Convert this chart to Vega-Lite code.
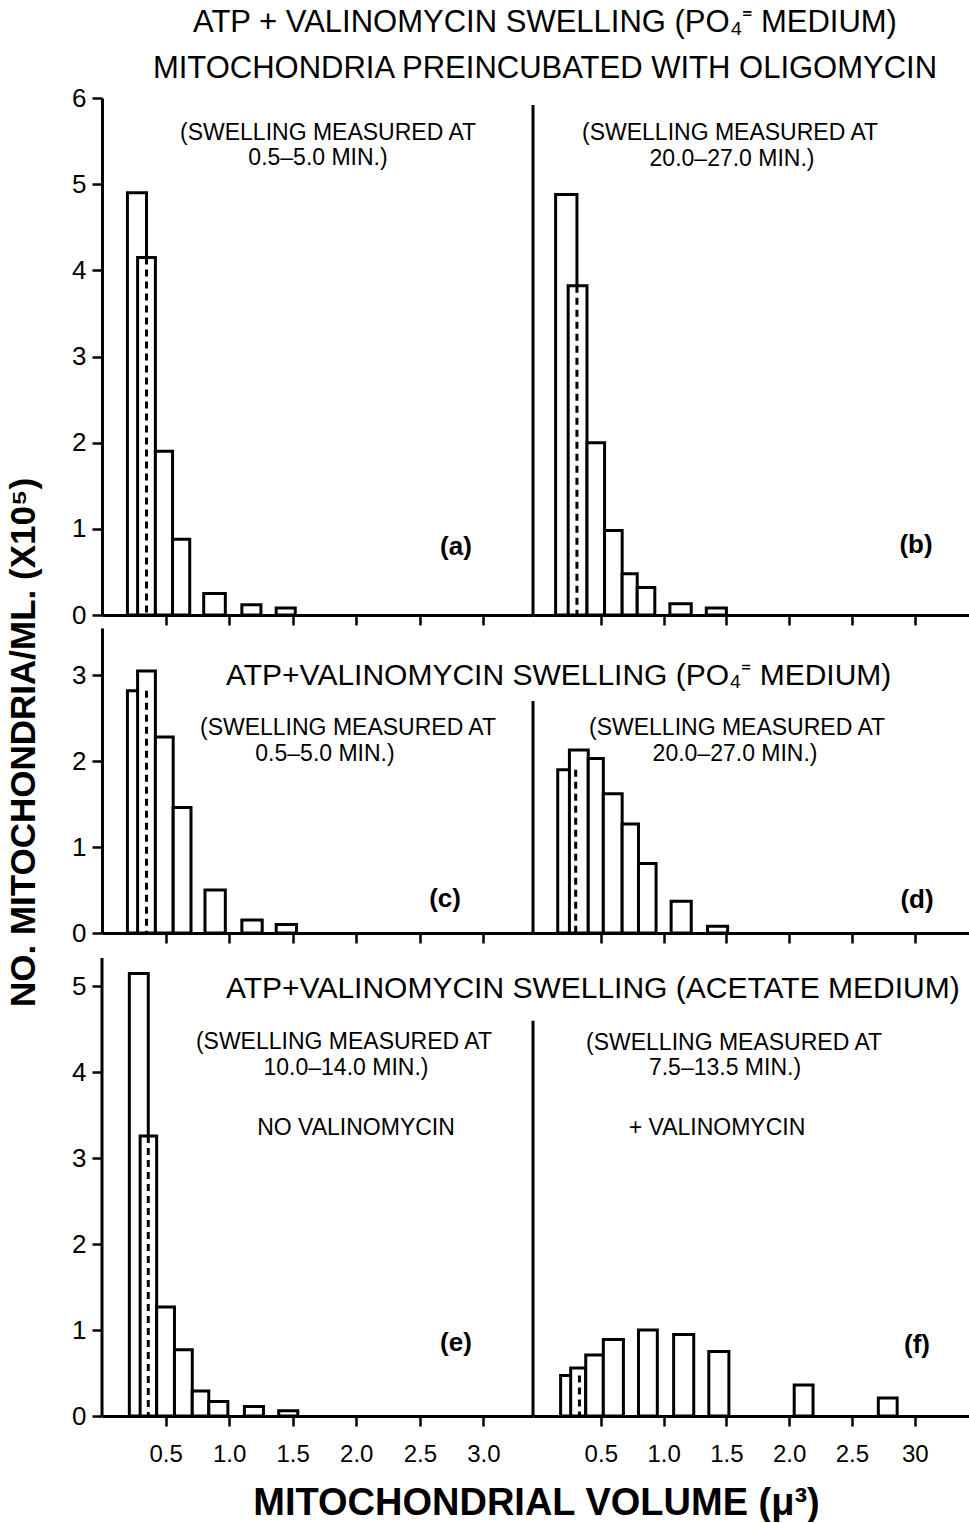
{
  "$schema": "https://vega.github.io/schema/vega-lite/v6.json",
  "padding": {"left": 5, "top": 7, "right": 0, "bottom": 0},
  "title": {
    "text": ["ATP + VALINOMYCIN SWELLING (PO₄⁼ MEDIUM)", "MITOCHONDRIA PREINCUBATED WITH OLIGOMYCIN"],
    "fontSize": 31, "fontWeight": "normal", "lineHeight": 46, "anchor": "middle", "frame": "bounds", "dx": 57, "offset": 0, "color": "black", "font": "Liberation Sans"
  },
  "columns": 2,
  "bounds": "flush",
  "align": "each",
  "spacing": {"row": 13, "column": 0},
  "datasets": {
    "bars": [
      {"panel": "a", "lo": 0.20, "hi": 0.35, "count": 4.90},
      {"panel": "a", "lo": 0.28, "hi": 0.42, "count": 4.15},
      {"panel": "a", "lo": 0.42, "hi": 0.555, "count": 1.90},
      {"panel": "a", "lo": 0.555, "hi": 0.69, "count": 0.88},
      {"panel": "a", "lo": 0.80, "hi": 0.97, "count": 0.25},
      {"panel": "a", "lo": 1.10, "hi": 1.25, "count": 0.12},
      {"panel": "a", "lo": 1.37, "hi": 1.52, "count": 0.08},
      {"panel": "b", "lo": 0.14, "hi": 0.31, "count": 4.88},
      {"panel": "b", "lo": 0.24, "hi": 0.39, "count": 3.82},
      {"panel": "b", "lo": 0.39, "hi": 0.53, "count": 2.00},
      {"panel": "b", "lo": 0.53, "hi": 0.67, "count": 0.98},
      {"panel": "b", "lo": 0.67, "hi": 0.79, "count": 0.48},
      {"panel": "b", "lo": 0.79, "hi": 0.93, "count": 0.32},
      {"panel": "b", "lo": 1.05, "hi": 1.22, "count": 0.13},
      {"panel": "b", "lo": 1.34, "hi": 1.50, "count": 0.08},
      {"panel": "c", "lo": 0.20, "hi": 0.35, "count": 2.82},
      {"panel": "c", "lo": 0.28, "hi": 0.42, "count": 3.05},
      {"panel": "c", "lo": 0.42, "hi": 0.56, "count": 2.28},
      {"panel": "c", "lo": 0.56, "hi": 0.70, "count": 1.46},
      {"panel": "c", "lo": 0.81, "hi": 0.97, "count": 0.50},
      {"panel": "c", "lo": 1.10, "hi": 1.26, "count": 0.15},
      {"panel": "c", "lo": 1.37, "hi": 1.53, "count": 0.10},
      {"panel": "d", "lo": 0.157, "hi": 0.30, "count": 1.90},
      {"panel": "d", "lo": 0.25, "hi": 0.40, "count": 2.13},
      {"panel": "d", "lo": 0.40, "hi": 0.52, "count": 2.03},
      {"panel": "d", "lo": 0.52, "hi": 0.67, "count": 1.62},
      {"panel": "d", "lo": 0.67, "hi": 0.80, "count": 1.27},
      {"panel": "d", "lo": 0.80, "hi": 0.94, "count": 0.81},
      {"panel": "d", "lo": 1.06, "hi": 1.22, "count": 0.37},
      {"panel": "d", "lo": 1.35, "hi": 1.51, "count": 0.08},
      {"panel": "e", "lo": 0.215, "hi": 0.364, "count": 5.15},
      {"panel": "e", "lo": 0.30, "hi": 0.43, "count": 3.26},
      {"panel": "e", "lo": 0.43, "hi": 0.57, "count": 1.27},
      {"panel": "e", "lo": 0.57, "hi": 0.71, "count": 0.77},
      {"panel": "e", "lo": 0.71, "hi": 0.84, "count": 0.29},
      {"panel": "e", "lo": 0.84, "hi": 0.99, "count": 0.17},
      {"panel": "e", "lo": 1.12, "hi": 1.27, "count": 0.11},
      {"panel": "e", "lo": 1.39, "hi": 1.54, "count": 0.06},
      {"panel": "f", "lo": 0.18, "hi": 0.33, "count": 0.47},
      {"panel": "f", "lo": 0.26, "hi": 0.38, "count": 0.56},
      {"panel": "f", "lo": 0.38, "hi": 0.52, "count": 0.71},
      {"panel": "f", "lo": 0.52, "hi": 0.68, "count": 0.89},
      {"panel": "f", "lo": 0.80, "hi": 0.95, "count": 1.00},
      {"panel": "f", "lo": 1.08, "hi": 1.24, "count": 0.95},
      {"panel": "f", "lo": 1.36, "hi": 1.52, "count": 0.75},
      {"panel": "f", "lo": 2.04, "hi": 2.19, "count": 0.36},
      {"panel": "f", "lo": 2.71, "hi": 2.86, "count": 0.21}
    ],
    "hidden": [
      {"panel": "a", "edge": 0.35, "top": 4.15},
      {"panel": "b", "edge": 0.31, "top": 3.82},
      {"panel": "c", "edge": 0.35, "top": 2.82},
      {"panel": "d", "edge": 0.30, "top": 1.90},
      {"panel": "e", "edge": 0.364, "top": 3.26},
      {"panel": "f", "edge": 0.33, "top": 0.47}
    ]
  },
  "concat": [
    {
      "width": 431, "height": 517,
      "layer": [
        {
          "data": {"name": "bars"},
          "transform": [{"filter": "datum.panel === 'a'"}],
          "mark": {"type": "rect", "fill": "white", "stroke": "black", "strokeWidth": 3},
          "encoding": {
            "x": {"field": "lo", "type": "quantitative", "scale": {"domain": [0, 3.39], "nice": false, "zero": false}, "axis": {"values": [0.5, 1, 1.5, 2, 2.5, 3], "labels": false, "title": null}},
            "x2": {"field": "hi"},
            "y": {"field": "count", "type": "quantitative", "scale": {"domain": [0, 6], "nice": false}, "axis": {"values": [0, 1, 2, 3, 4, 5, 6], "format": "d", "title": null}},
            "y2": {"datum": 0}
          }
        },
        {
          "data": {"name": "hidden"},
          "transform": [{"filter": "datum.panel === 'a'"}],
          "mark": {"type": "rule", "strokeDash": [7, 5], "strokeWidth": 3, "color": "black"},
          "encoding": {"x": {"field": "edge", "type": "quantitative"}, "y": {"field": "top", "type": "quantitative"}, "y2": {"datum": 0}}
        },
        {"data": {"values": [{}]}, "mark": {"type": "text", "align": "center", "baseline": "alphabetic", "fontSize": 23}, "encoding": {"x": {"datum": 1.778}, "y": {"datum": 5.512}, "text": {"value": "(SWELLING MEASURED AT"}}},
        {"data": {"values": [{}]}, "mark": {"type": "text", "align": "center", "baseline": "alphabetic", "fontSize": 23}, "encoding": {"x": {"datum": 1.699}, "y": {"datum": 5.222}, "text": {"value": "0.5–5.0 MIN.)"}}},
        {"data": {"values": [{}]}, "mark": {"type": "text", "align": "center", "baseline": "alphabetic", "fontSize": 26, "fontWeight": "bold"}, "encoding": {"x": {"datum": 2.784}, "y": {"datum": 0.70}, "text": {"value": "(a)"}}}
      ]
    },
    {
      "width": 437, "height": 517,
      "layer": [
        {
          "data": {"name": "bars"},
          "transform": [{"filter": "datum.panel === 'b'"}],
          "mark": {"type": "rect", "fill": "white", "stroke": "black", "strokeWidth": 3},
          "encoding": {
            "x": {"field": "lo", "type": "quantitative", "scale": {"domain": [-0.04, 3.44], "nice": false, "zero": false}, "axis": {"values": [0.5, 1, 1.5, 2, 2.5, 3], "labels": false, "title": null}},
            "x2": {"field": "hi"},
            "y": {"field": "count", "type": "quantitative", "scale": {"domain": [0, 6], "nice": false}, "axis": null},
            "y2": {"datum": 0}
          }
        },
        {
          "data": {"name": "hidden"},
          "transform": [{"filter": "datum.panel === 'b'"}],
          "mark": {"type": "rule", "strokeDash": [7, 5], "strokeWidth": 3, "color": "black"},
          "encoding": {"x": {"field": "edge", "type": "quantitative"}, "y": {"field": "top", "type": "quantitative"}, "y2": {"datum": 0}}
        },
        {"data": {"values": [{}]}, "mark": {"type": "rule", "strokeWidth": 3, "color": "black"}, "encoding": {"x": {"datum": -0.04}, "y": {"datum": 0}, "y2": {"datum": 5.92}}},
        {"data": {"values": [{}]}, "mark": {"type": "text", "align": "center", "baseline": "alphabetic", "fontSize": 23}, "encoding": {"x": {"datum": 1.529}, "y": {"datum": 5.512}, "text": {"value": "(SWELLING MEASURED AT"}}},
        {"data": {"values": [{}]}, "mark": {"type": "text", "align": "center", "baseline": "alphabetic", "fontSize": 23}, "encoding": {"x": {"datum": 1.545}, "y": {"datum": 5.21}, "text": {"value": "20.0–27.0 MIN.)"}}},
        {"data": {"values": [{}]}, "mark": {"type": "text", "align": "center", "baseline": "alphabetic", "fontSize": 26, "fontWeight": "bold"}, "encoding": {"x": {"datum": 3.01}, "y": {"datum": 0.72}, "text": {"value": "(b)"}}}
      ]
    },
    {
      "width": 431, "height": 305,
      "layer": [
        {
          "data": {"name": "bars"},
          "transform": [{"filter": "datum.panel === 'c'"}],
          "mark": {"type": "rect", "fill": "white", "stroke": "black", "strokeWidth": 3},
          "encoding": {
            "x": {"field": "lo", "type": "quantitative", "scale": {"domain": [0, 3.39], "nice": false, "zero": false}, "axis": {"values": [0.5, 1, 1.5, 2, 2.5, 3], "labels": false, "title": null}},
            "x2": {"field": "hi"},
            "y": {"field": "count", "type": "quantitative", "scale": {"domain": [0, 3.55], "nice": false}, "axis": {"values": [0, 1, 2, 3], "format": "d", "title": "NO. MITOCHONDRIA/ML. (X10⁵)", "titleX": -79, "titleY": 114, "titleAlign": "center", "titleBaseline": "middle", "titleAngle": 270, "titleFontSize": 35, "titleFontWeight": "bold"}},
            "y2": {"datum": 0}
          }
        },
        {
          "data": {"name": "hidden"},
          "transform": [{"filter": "datum.panel === 'c'"}],
          "mark": {"type": "rule", "strokeDash": [7, 5], "strokeWidth": 3, "color": "black"},
          "encoding": {"x": {"field": "edge", "type": "quantitative"}, "y": {"field": "top", "type": "quantitative"}, "y2": {"datum": 0}}
        },
        {"data": {"values": [{}]}, "mark": {"type": "text", "align": "left", "baseline": "alphabetic", "fontSize": 30}, "encoding": {"x": {"datum": 0.975}, "y": {"datum": 2.887}, "text": {"value": "ATP+VALINOMYCIN SWELLING (PO₄⁼ MEDIUM)"}}},
        {"data": {"values": [{}]}, "mark": {"type": "text", "align": "center", "baseline": "alphabetic", "fontSize": 23}, "encoding": {"x": {"datum": 1.935}, "y": {"datum": 2.305}, "text": {"value": "(SWELLING MEASURED AT"}}},
        {"data": {"values": [{}]}, "mark": {"type": "text", "align": "center", "baseline": "alphabetic", "fontSize": 23}, "encoding": {"x": {"datum": 1.754}, "y": {"datum": 2.002}, "text": {"value": "0.5–5.0 MIN.)"}}},
        {"data": {"values": [{}]}, "mark": {"type": "text", "align": "center", "baseline": "alphabetic", "fontSize": 26, "fontWeight": "bold"}, "encoding": {"x": {"datum": 2.698}, "y": {"datum": 0.30}, "text": {"value": "(c)"}}}
      ]
    },
    {
      "width": 437, "height": 305,
      "layer": [
        {
          "data": {"name": "bars"},
          "transform": [{"filter": "datum.panel === 'd'"}],
          "mark": {"type": "rect", "fill": "white", "stroke": "black", "strokeWidth": 3},
          "encoding": {
            "x": {"field": "lo", "type": "quantitative", "scale": {"domain": [-0.04, 3.44], "nice": false, "zero": false}, "axis": {"values": [0.5, 1, 1.5, 2, 2.5, 3], "labels": false, "title": null}},
            "x2": {"field": "hi"},
            "y": {"field": "count", "type": "quantitative", "scale": {"domain": [0, 3.55], "nice": false}, "axis": null},
            "y2": {"datum": 0}
          }
        },
        {
          "data": {"name": "hidden"},
          "transform": [{"filter": "datum.panel === 'd'"}],
          "mark": {"type": "rule", "strokeDash": [7, 5], "strokeWidth": 3, "color": "black"},
          "encoding": {"x": {"field": "edge", "type": "quantitative"}, "y": {"field": "top", "type": "quantitative"}, "y2": {"datum": 0}}
        },
        {"data": {"values": [{}]}, "mark": {"type": "rule", "strokeWidth": 3, "color": "black"}, "encoding": {"x": {"datum": -0.04}, "y": {"datum": 0}, "y2": {"datum": 2.70}}},
        {"data": {"values": [{}]}, "mark": {"type": "text", "align": "center", "baseline": "alphabetic", "fontSize": 23}, "encoding": {"x": {"datum": 1.585}, "y": {"datum": 2.305}, "text": {"value": "(SWELLING MEASURED AT"}}},
        {"data": {"values": [{}]}, "mark": {"type": "text", "align": "center", "baseline": "alphabetic", "fontSize": 23}, "encoding": {"x": {"datum": 1.569}, "y": {"datum": 2.002}, "text": {"value": "20.0–27.0 MIN.)"}}},
        {"data": {"values": [{}]}, "mark": {"type": "text", "align": "center", "baseline": "alphabetic", "fontSize": 26, "fontWeight": "bold"}, "encoding": {"x": {"datum": 3.018}, "y": {"datum": 0.29}, "text": {"value": "(d)"}}}
      ]
    },
    {
      "width": 431, "height": 470,
      "layer": [
        {
          "data": {"name": "bars"},
          "transform": [{"filter": "datum.panel === 'e'"}],
          "mark": {"type": "rect", "fill": "white", "stroke": "black", "strokeWidth": 3},
          "encoding": {
            "x": {"field": "lo", "type": "quantitative", "scale": {"domain": [0, 3.39], "nice": false, "zero": false}, "axis": {"values": [0.5, 1, 1.5, 2, 2.5, 3], "format": ".1f", "labelFontSize": 24, "labelPadding": 16, "title": "MITOCHONDRIAL VOLUME (μ³)", "titleX": 434, "titleY": 87, "titleAlign": "center", "titleBaseline": "middle", "titleFontSize": 38, "titleFontWeight": "bold"}},
            "x2": {"field": "hi"},
            "y": {"field": "count", "type": "quantitative", "scale": {"domain": [0, 5.471], "nice": false}, "axis": {"values": [0, 1, 2, 3, 4, 5], "format": "d", "domain": false, "title": null}},
            "y2": {"datum": 0}
          }
        },
        {
          "data": {"name": "hidden"},
          "transform": [{"filter": "datum.panel === 'e'"}],
          "mark": {"type": "rule", "strokeDash": [7, 5], "strokeWidth": 3, "color": "black"},
          "encoding": {"x": {"field": "edge", "type": "quantitative"}, "y": {"field": "top", "type": "quantitative"}, "y2": {"datum": 0}}
        },
        {"data": {"values": [{}]}, "mark": {"type": "rule", "strokeWidth": 3, "color": "black"}, "encoding": {"x": {"datum": 0}, "y": {"datum": 0}, "y2": {"datum": 5.33}}},
        {"data": {"values": [{}]}, "mark": {"type": "text", "align": "left", "baseline": "alphabetic", "fontSize": 30}, "encoding": {"x": {"datum": 0.975}, "y": {"datum": 4.866}, "text": {"value": "ATP+VALINOMYCIN SWELLING (ACETATE MEDIUM)"}}},
        {"data": {"values": [{}]}, "mark": {"type": "text", "align": "center", "baseline": "alphabetic", "fontSize": 23}, "encoding": {"x": {"datum": 1.903}, "y": {"datum": 4.272}, "text": {"value": "(SWELLING MEASURED AT"}}},
        {"data": {"values": [{}]}, "mark": {"type": "text", "align": "center", "baseline": "alphabetic", "fontSize": 23}, "encoding": {"x": {"datum": 1.919}, "y": {"datum": 3.97}, "text": {"value": "10.0–14.0 MIN.)"}}},
        {"data": {"values": [{}]}, "mark": {"type": "text", "align": "center", "baseline": "alphabetic", "fontSize": 23}, "encoding": {"x": {"datum": 1.998}, "y": {"datum": 3.271}, "text": {"value": "NO VALINOMYCIN"}}},
        {"data": {"values": [{}]}, "mark": {"type": "text", "align": "center", "baseline": "alphabetic", "fontSize": 26, "fontWeight": "bold"}, "encoding": {"x": {"datum": 2.784}, "y": {"datum": 0.757}, "text": {"value": "(e)"}}}
      ]
    },
    {
      "width": 437, "height": 470,
      "layer": [
        {
          "data": {"name": "bars"},
          "transform": [{"filter": "datum.panel === 'f'"}],
          "mark": {"type": "rect", "fill": "white", "stroke": "black", "strokeWidth": 3},
          "encoding": {
            "x": {"field": "lo", "type": "quantitative", "scale": {"domain": [-0.04, 3.44], "nice": false, "zero": false}, "axis": {"values": [0.5, 1, 1.5, 2, 2.5, 3], "labelExpr": "datum.value === 3 ? '30' : format(datum.value, '.1f')", "labelFontSize": 24, "labelPadding": 16, "title": null}},
            "x2": {"field": "hi"},
            "y": {"field": "count", "type": "quantitative", "scale": {"domain": [0, 5.471], "nice": false}, "axis": null},
            "y2": {"datum": 0}
          }
        },
        {
          "data": {"name": "hidden"},
          "transform": [{"filter": "datum.panel === 'f'"}],
          "mark": {"type": "rule", "strokeDash": [7, 5], "strokeWidth": 3, "color": "black"},
          "encoding": {"x": {"field": "edge", "type": "quantitative"}, "y": {"field": "top", "type": "quantitative"}, "y2": {"datum": 0}}
        },
        {"data": {"values": [{}]}, "mark": {"type": "rule", "strokeWidth": 3, "color": "black"}, "encoding": {"x": {"datum": -0.04}, "y": {"datum": 0}, "y2": {"datum": 4.60}}},
        {"data": {"values": [{}]}, "mark": {"type": "text", "align": "center", "baseline": "alphabetic", "fontSize": 23}, "encoding": {"x": {"datum": 1.561}, "y": {"datum": 4.261}, "text": {"value": "(SWELLING MEASURED AT"}}},
        {"data": {"values": [{}]}, "mark": {"type": "text", "align": "center", "baseline": "alphabetic", "fontSize": 23}, "encoding": {"x": {"datum": 1.489}, "y": {"datum": 3.97}, "text": {"value": "7.5–13.5 MIN.)"}}},
        {"data": {"values": [{}]}, "mark": {"type": "text", "align": "center", "baseline": "alphabetic", "fontSize": 23}, "encoding": {"x": {"datum": 1.425}, "y": {"datum": 3.271}, "text": {"value": "+ VALINOMYCIN"}}},
        {"data": {"values": [{}]}, "mark": {"type": "text", "align": "center", "baseline": "alphabetic", "fontSize": 26, "fontWeight": "bold"}, "encoding": {"x": {"datum": 3.018}, "y": {"datum": 0.733}, "text": {"value": "(f)"}}}
      ]
    }
  ],
  "config": {
    "font": "Liberation Sans",
    "view": {"stroke": null},
    "axis": {
      "grid": false,
      "domainColor": "black", "domainWidth": 3,
      "tickColor": "black", "tickWidth": 2.5, "tickSize": 10,
      "labelColor": "black", "labelFont": "Liberation Sans", "labelFontSize": 26, "labelPadding": 6, "labelFlush": false,
      "titleColor": "black", "titleFont": "Liberation Sans"
    },
    "text": {"color": "black", "font": "Liberation Sans"}
  }
}
